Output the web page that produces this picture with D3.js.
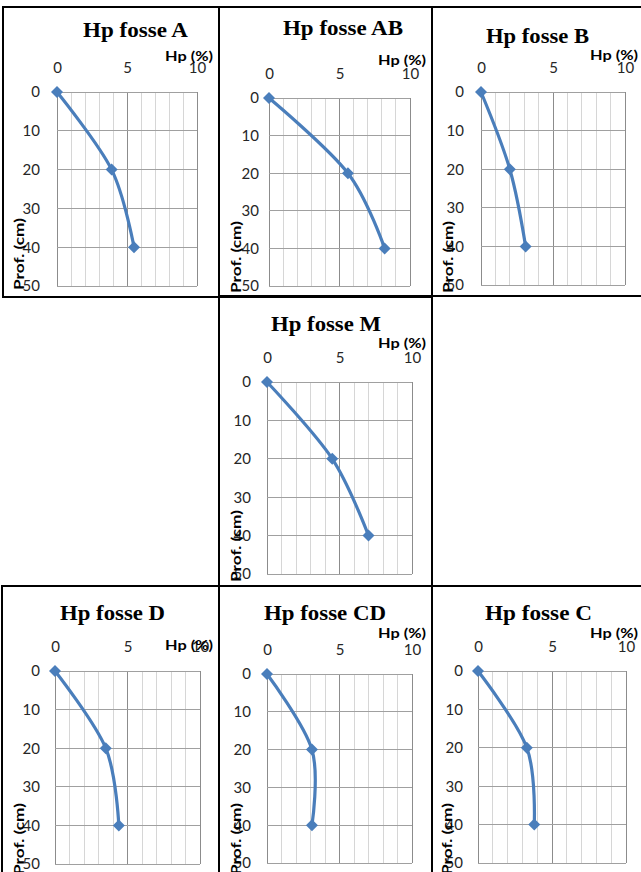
<!DOCTYPE html>
<html>
<head>
<meta charset="utf-8">
<script src="https://cdn.jsdelivr.net/npm/d3@7"></script>
<style>
  html, body { margin: 0; padding: 0; background: #fff; }
  svg { display: block; }
</style>
</head>
<body>
<svg id="chart" width="641" height="872"></svg>
<script>
// ---- data ----
const depths = [0, 20, 40];                 // Prof. (cm)
const fosseNames = ["A", "AB", "B", "M", "D", "CD", "C"];
const hpA  = [0, 3.9, 5.5];
const hpAB = [0, 5.6, 8.2];
const hpB  = [0, 2.0, 3.1];
const hpM  = [0, 4.5, 7.0];
const hpD  = [0, 3.5, 4.4];
const hpCD = [0, 3.1, 3.1];
const hpC  = [0, 3.3, 3.8];
const xTicks = [0, 5, 10];
const yTicks = [0, 10, 20, 30, 40, 50];
const xMinor = [0, 1, 2, 3, 4, 5, 6, 7, 8, 9, 10];
const xLabel = "Hp (%)";
const yLabel = "Prof. (cm)";
const titlePrefix = "Hp fosse ";

const seriesByName = { A: hpA, AB: hpAB, B: hpB, M: hpM, D: hpD, CD: hpCD, C: hpC };

// ---- layout (positions only) ----
const layout = {
  A:  { box: [3, 7, 219, 297],     plot: [57, 92, 197, 286],   title: [135.5, 37, 105], hp: [213, 61],  ygap: 17, prof: [24, 290] },
  AB: { box: [219, 7, 432, 296],   plot: [269, 98, 410, 286],  title: [343, 35, 120],   hp: [426, 65],  ygap: 10, prof: [241, 293] },
  B:  { box: [432, 7, 646, 296],   plot: [481, 92, 625, 285],  title: [537.5, 43, 103], hp: [638, 60],  ygap: 17, prof: [453, 293] },
  M:  { box: [219, 297, 432, 586], plot: [267, 382, 412, 574], title: [326, 331, 110],  hp: [426, 348], ygap: 16, prof: [241, 582] },
  D:  { box: [2, 586, 219, 900],   plot: [55, 671, 200, 864],  title: [112.5, 620, 105], hp: [213, 650], ygap: 15, prof: [24, 875] },
  CD: { box: [219, 586, 432, 900], plot: [267, 674, 412, 863], title: [325, 620, 122],  hp: [426, 638], ygap: 16, prof: [241, 875] },
  C:  { box: [432, 586, 646, 900], plot: [478, 671, 626, 863], title: [538.5, 620, 107], hp: [638, 638], ygap: 15, prof: [452, 875] }
};

const lineColor = "#4a7ebb";
const svg = d3.select("#chart");

fosseNames.forEach(name => {
  const L = layout[name];
  const vals = seriesByName[name];
  const [px0, py0, px1, py1] = L.plot;
  const x = d3.scaleLinear().domain([0, 10]).range([px0, px1]);
  const y = d3.scaleLinear().domain([0, 50]).range([py0, py1]);
  const g = svg.append("g");

  // grid
  g.selectAll(".vg").data(xMinor).join("line")
    .attr("x1", d => x(d)).attr("x2", d => x(d))
    .attr("y1", py0).attr("y2", py1)
    .attr("stroke", d => (d % 5 === 0 ? "#8c8c8c" : "#d6d6d6"))
    .attr("stroke-width", 1)
    .attr("shape-rendering", "crispEdges");
  g.selectAll(".hg").data(yTicks).join("line")
    .attr("x1", px0).attr("x2", px1)
    .attr("y1", d => y(d)).attr("y2", d => y(d))
    .attr("stroke", "#a0a0a0")
    .attr("stroke-width", 1)
    .attr("shape-rendering", "crispEdges");

  // axes (labels only)
  const ax = g.append("g").attr("transform", `translate(0,${py0})`)
    .call(d3.axisTop(x).tickValues(xTicks).tickSize(0).tickPadding(19).tickFormat(d3.format("d")));
  const ay = g.append("g").attr("transform", `translate(${px0},0)`)
    .call(d3.axisLeft(y).tickValues(yTicks).tickSize(0).tickPadding(L.ygap).tickFormat(d3.format("d")));
  [ax, ay].forEach(a => {
    a.select(".domain").remove();
    a.selectAll("text")
      .attr("font-family", "Lato, 'Open Sans', sans-serif")
      .attr("font-size", 15)
      .attr("fill", "#262626");
  });

  // smoothed line
  const pts = vals.map((v, i) => [v, depths[i]]);
  const line = d3.line().x(d => x(d[0])).y(d => y(d[1])).curve(d3.curveCatmullRom.alpha(0));
  g.append("path").attr("d", line(pts))
    .attr("fill", "none").attr("stroke", lineColor).attr("stroke-width", 3.2);

  // markers (diamonds)
  const sym = d3.symbol().type(d3.symbolSquare).size(72);
  g.selectAll(".mk").data(pts).join("path")
    .attr("d", sym)
    .attr("transform", d => `translate(${x(d[0])},${y(d[1])}) rotate(45)`)
    .attr("fill", lineColor);

  // title
  g.append("text")
    .attr("x", L.title[0] - L.title[2] / 2).attr("y", L.title[1])
    .attr("textLength", L.title[2]).attr("lengthAdjust", "spacingAndGlyphs")
    .attr("font-family", "'Liberation Serif', 'Times New Roman', serif")
    .attr("font-weight", "bold").attr("font-size", 20)
    .attr("fill", "#000")
    .text(titlePrefix + name);

  // x axis title
  g.append("text")
    .attr("x", L.hp[0] - 48).attr("y", L.hp[1])
    .attr("textLength", 48).attr("lengthAdjust", "spacingAndGlyphs")
    .attr("font-family", "Lato, 'Open Sans', sans-serif")
    .attr("font-weight", "bold").attr("font-size", 13.5)
    .attr("fill", "#000")
    .text(xLabel);

  // y axis title
  g.append("text")
    .attr("transform", `translate(${L.prof[0]},${L.prof[1]}) rotate(-90)`)
    .attr("textLength", 72).attr("lengthAdjust", "spacingAndGlyphs")
    .attr("font-family", "Lato, 'Open Sans', sans-serif")
    .attr("font-weight", "bold").attr("font-size", 13.5)
    .attr("fill", "#000")
    .text(yLabel);

  // border
  const [bx0, by0, bx1, by1] = L.box;
  g.append("rect")
    .attr("x", bx0).attr("y", by0)
    .attr("width", bx1 - bx0).attr("height", by1 - by0)
    .attr("fill", "none").attr("stroke", "#000").attr("stroke-width", 2);
});
</script>
</body>
</html>
